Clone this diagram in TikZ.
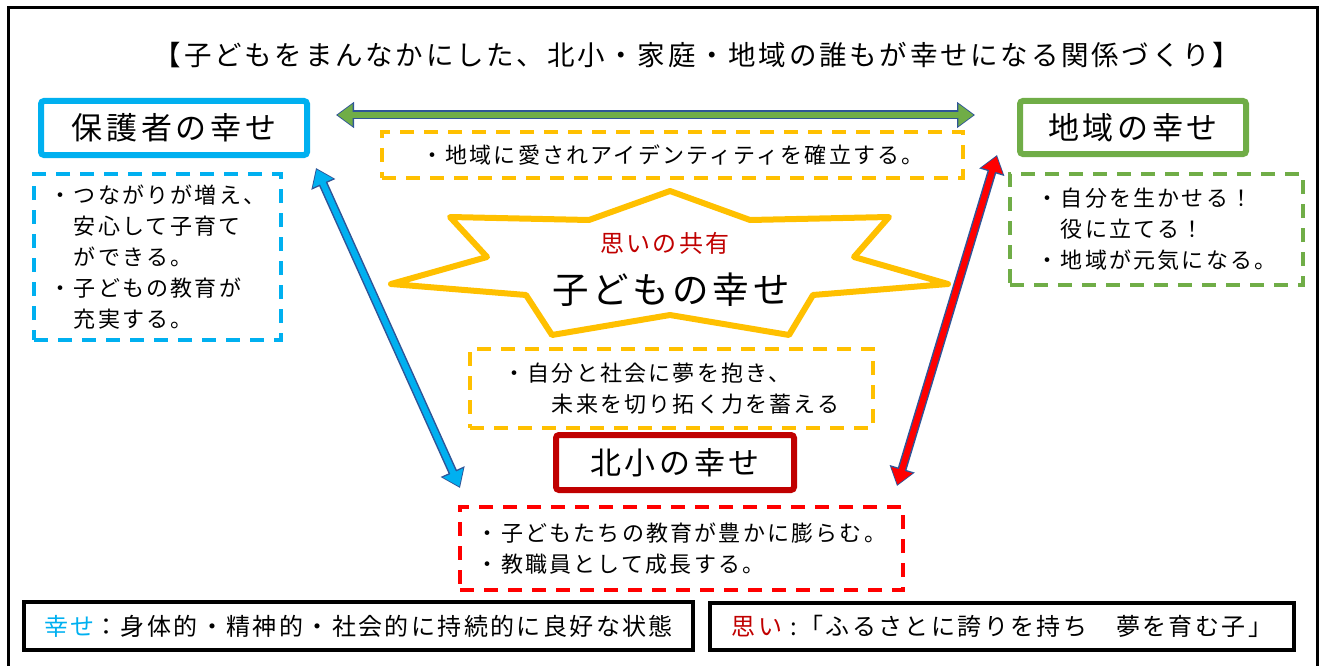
\documentclass[tikz,border=0pt]{standalone}
\usepackage{fontspec}
\usepackage{tikz}
\usetikzlibrary{arrows.meta, positioning}
\setmainfont{Noto Sans CJK JP}
\newfontfamily\jpfont[LetterSpace=10]{Noto Sans CJK JP}
\newfontfamily\jpwide[LetterSpace=12]{Noto Sans CJK JP}
\definecolor{hcyan}{HTML}{00B0F0}
\definecolor{hgreen}{HTML}{70AD47}
\definecolor{hdarkred}{HTML}{C00000}
\definecolor{hyellow}{HTML}{FFC000}
\definecolor{hred}{HTML}{FF0000}
\definecolor{arrowedge}{HTML}{2F5597}
\tikzstyle{mainbox} =
[rectangle, rounded corners=3pt, line width=6pt, fill=white, inner sep=0pt,
font=\jpwide\fontsize{31}{34}\selectfont]
\tikzstyle{parentbox} = [mainbox, draw=hcyan, minimum width=266pt, minimum height=54pt]
\tikzstyle{regionbox} = [mainbox, draw=hgreen, minimum width=226pt, minimum height=53pt]
\tikzstyle{schoolbox} = [mainbox, draw=hdarkred, minimum width=238pt, minimum height=55pt]
\tikzstyle{note} =
[rectangle, line width=4pt, dash pattern=on 14pt off 10pt, inner sep=0pt,
align=left, font=\jpfont\fontsize{22}{31}\selectfont]
\tikzstyle{defbox} =
[rectangle, line width=4pt, draw=black, inner sep=0pt,
font=\jpfont\fontsize{24}{28}\selectfont]
\tikzstyle{seal} = [draw=hyellow, line width=6pt, line join=round, fill=white]
\tikzstyle{dblout} =
[draw=arrowedge, line width=9pt,
{Triangle[length=18pt,width=25pt]}-{Triangle[length=18pt,width=25pt]}]
\tikzstyle{dblin} =
[line width=6pt, shorten <=1.6pt, shorten >=1.6pt,
{Triangle[length=15pt,width=21pt]}-{Triangle[length=15pt,width=21pt]}]

\begin{document}
\begin{tikzpicture}[x=1pt, y=1pt]
  \useasboundingbox (0,0) rectangle (1322,-666);
  \draw [line width=3pt] (8,-8) rectangle (1317,-672);
  % title
  \node [font=\jpfont\fontsize{27.5}{32}\selectfont] (title) at (697,-55)
   {【子どもをまんなかにした、北小・家庭・地域の誰もが幸せになる関係づくり】};
  % three parties
  \node [parentbox] (parent) at (174,-128) {保護者の幸せ};
  \node [note, draw=hcyan, minimum width=247pt, minimum height=166pt,
   below of=parent, node distance=129pt, xshift=-16.5pt] (parentnote)
   {・つながりが増え、\\　安心して子育て\\　ができる。\\・子どもの教育が\\　充実する。};
  \node [regionbox] (region) at (1133,-127.5) {地域の幸せ};
  \node [note, draw=hgreen, minimum width=293pt, minimum height=111pt,
   below of=region, node distance=102pt, xshift=23.5pt] (regionnote)
   {・自分を生かせる！\\　役に立てる！\\・地域が元気になる。};
  \node [schoolbox] (school) at (675,-462.5) {北小の幸せ};
  \node [note, draw=hyellow, minimum width=403pt, minimum height=79pt,
   above of=school, node distance=74pt, xshift=-3.5pt] (dream)
   {・自分と社会に夢を抱き、\\　　未来を切り拓く力を蓄える};
  \node [note, draw=hred, minimum width=443pt, minimum height=83pt,
   below of=school, node distance=86pt, xshift=6.5pt] (schoolnote)
   {・子どもたちの教育が豊かに膨らむ。\\・教職員として成長する。};
  \node [note, draw=hyellow, minimum width=581pt, minimum height=46pt]
   (identity) at (672.5,-155) {・地域に愛されアイデンティティを確立する。};
  %
  % centre seal
  \draw [seal] (670,-191) -- (750,-220) -- (889,-217) -- (854,-257)
   -- (948,-284) -- (813,-295) -- (789,-335) -- (670,-315) -- (552,-335)
   -- (526,-295) -- (391,-284) -- (487,-257) -- (450,-217) -- (589,-220)
   -- cycle;
  \node [text=hdarkred, font=\jpfont\fontsize{24}{28}\selectfont]
   (share) at (665,-243) {思いの共有};
  \node [font=\jpfont\fontsize{36.5}{40}\selectfont]
   (child) at (671,-290) {子どもの幸せ};
  %
  % arrows
  \coordinate (gl) at ([shift={(26,13)}]parent.east);
  \coordinate (gr) at ([shift={(-42,12.5)}]region.west);
  \coordinate (bt) at ([shift={(6,-10)}]parent.south east);
  \coordinate (bb) at ([shift={(2,17)}]schoolnote.north west);
  \coordinate (rt) at ([shift={(-20,2)}]region.south west);
  \coordinate (rb) at ([shift={(-8,19)}]schoolnote.north east);
  \path [dblout] (gl) -- (gr);
  \path [dblin, draw=hgreen] (gl) -- (gr);
  \path [dblout] (bt) -- (bb);
  \path [dblin, draw=hcyan] (bt) -- (bb);
  \path [dblout] (rt) -- (rb);
  \path [dblin, draw=hred] (rt) -- (rb);
  %
  % definitions
  \node [defbox, minimum width=669pt, minimum height=48pt] (happydef)
   at (358.5,-626) {{\color{hcyan}幸せ}：身体的・精神的・社会的に持続的に良好な状態};
  \node [defbox, minimum width=584pt, minimum height=47pt,
   right of=happydef, node distance=643.5pt] (thoughtdef)
   {{\color{hdarkred}思い}~:「ふるさとに誇りを持ち　夢を育む子」};
\end{tikzpicture}
\end{document}
